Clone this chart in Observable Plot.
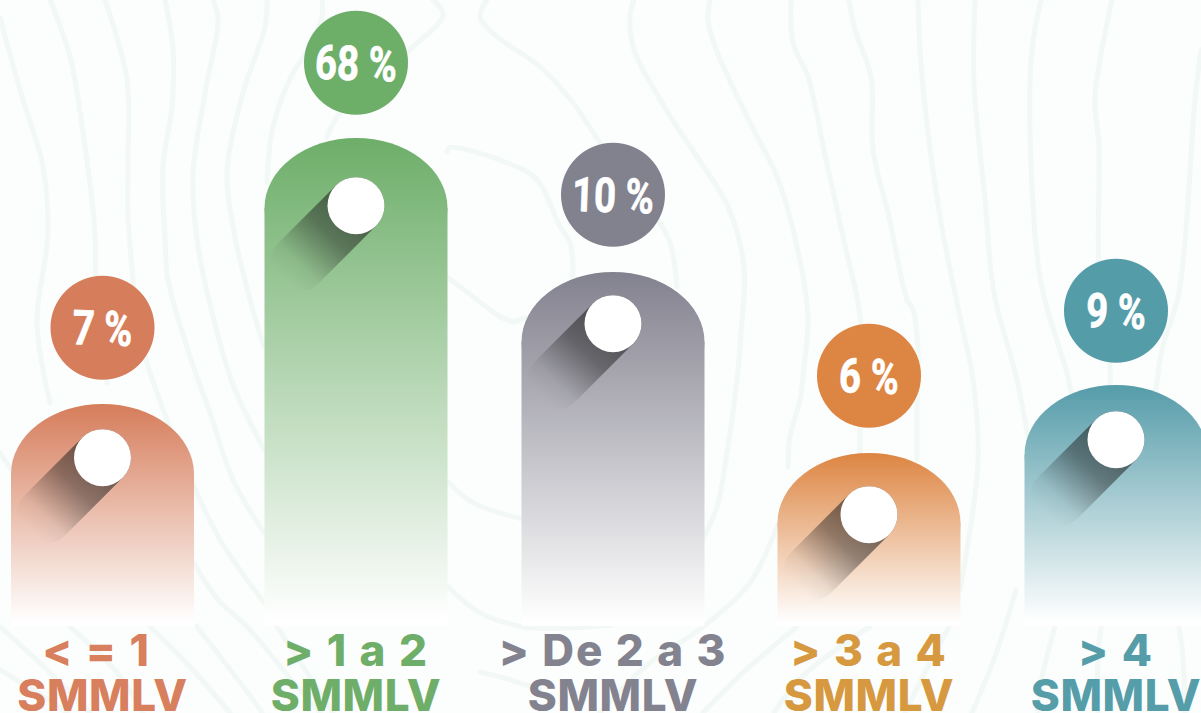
<!DOCTYPE html>
<html>
<head>
<meta charset="utf-8">
<script src="https://cdn.jsdelivr.net/npm/d3@7"></script>
<script src="https://cdn.jsdelivr.net/npm/@observablehq/plot@0.6"></script>
<style>
html,body{margin:0;padding:0;background:#fcfdfd;overflow:hidden}
.cat-label{letter-spacing:1.9px}
.unit-label{letter-spacing:0.7px}
</style>
</head>
<body>
<div id="chart"></div>
<script>
// Chart content
const categories = ["< = 1", "> 1 a 2", "> De 2 a 3", "> 3 a 4", "> 4"];
const unit = "SMMLV";
const percents = [7, 68, 10, 6, 9];
const slot = [102.5, 356, 613, 869, 1116];
const barTop = [404, 138, 272, 453, 385];
const knobLevel = [458, 206, 324, 515, 440];
const bubbleLevel = [328, 63, 195, 376, 311];
const bubbleColors = ["#d67d5b", "#6dae69", "#82818e", "#dd8542", "#559ca9"];
const labelColors = ["#d87f5d", "#6fae69", "#83828f", "#d6993f", "#559da9"];

// Faint contour lines of the backdrop
const contours = [
  [[0,18],[20,90],[32,128],[43,167],[48,233],[37,323],[50,403]],
  [[50,0],[70,57],[83,133],[95,233],[96,280],[107,383]],
  [[105,0],[127,80],[128,160],[128,217],[133,280],[137,327],[157,393],[194,487],[220,540],[264,603]],
  [[165,0],[173,50],[172,107],[163,167],[165,240],[168,280],[190,357],[210,413],[233,480],[264,533]],
  [[213,0],[218,20],[207,83],[193,173],[197,240],[213,317],[233,385],[264,450]],
  [[267,0],[265,27],[243,93],[227,173],[233,227],[250,300],[264,347]],
  [[322,0],[322,17],[305,55],[293,73],[273,127],[267,183]],
  [[433,0],[443,15],[410,50],[340,113],[327,137]],
  [[487,0],[480,17],[497,37],[540,67],[573,103],[600,143],[656,217],[670,243],[677,287]],
  [[447,152],[450,148],[507,163],[537,180],[560,227],[570,243],[572,280],[567,290]],
  [[447,277],[477,300],[500,317],[513,322],[525,318]],
  [[634,0],[630,17],[634,50],[668,113],[697,157],[728,207],[744,267],[741,333],[737,380],[727,453],[717,507],[700,545]],
  [[710,0],[708,20],[715,47],[750,123],[777,177],[797,247],[808,317],[804,367],[800,400],[790,437],[788,467]],
  [[791,0],[793,43],[808,77],[826,160],[846,250],[860,317],[860,437],[860,460]],
  [[849,0],[855,30],[871,77],[873,150],[889,217],[907,300],[913,310],[918,350],[917,413],[917,460]],
  [[918,0],[922,77],[940,217],[960,317],[973,380],[978,463],[960,590]],
  [[975,0],[974,83],[985,200],[994,293],[1017,380],[1030,450]],
  [[1041,0],[1032,50],[1030,133],[1041,283],[1068,377],[1072,400]],
  [[1112,0],[1095,97],[1099,147],[1099,270],[1110,367],[1110,390]],
  [[1201,50],[1195,100],[1179,293],[1162,350],[1155,400]],
  [[448,482],[473,503],[525,520]],
  [[448,587],[480,613],[523,627],[573,628],[613,625]],
  [[778,525],[750,583],[703,627],[645,667],[600,713]],
  [[797,627],[743,673],[703,713]],
  [[870,627],[802,677],[774,713]],
  [[949,627],[930,663],[905,713]],
  [[1016,590],[995,657],[972,713]],
  [[1055,627],[1041,683],[1038,713]],
  [[1101,627],[1098,657],[1098,713]],
  [[1179,627],[1183,657],[1185,713]],
  [[0,627],[47,670],[90,713]],
  [[70,627],[117,673],[143,713]],
  [[150,627],[190,667],[230,713]],
  [[194,563],[218,600],[247,627],[297,687],[320,713]],
  [[197,627],[253,700],[262,713]],
  [[0,670],[43,697],[67,713]],
  [[277,627],[333,713]],
  [[480,672],[503,678],[540,690]],
  [[0,453],[11,470]]
];

// Styling constants
const baseline = 626, halfWidth = 91.5, archHeight = 70;
const bubbleR = 52, knobR = 28.5, shadowReach = 58, shadowFade = 72;
const bg = "#fcfdfd", contourColor = "#f2f8f6";
const shadowStops = [[0, 0.62], [0.39, 0.46], [0.65, 0.2], [0.8, 0.06], [1, 0]];
const pctSqueeze = 0.8;

const rows = categories.map((label, i) => ({
  i, label, pct: percents[i], x: slot[i], top: barTop[i],
  knob: knobLevel[i], bubble: bubbleLevel[i],
  color: bubbleColors[i], ink: labelColors[i]
}));
const contourRows = contours.flatMap((pts, id) => pts.map(([x, y]) => ({id, x, y})));

const marks = [
  Plot.line(contourRows, {x: "x", y: "y", z: "id", stroke: contourColor, strokeWidth: 5, curve: "catmull-rom"})
];
for (const r of rows) {
  const fill = `url(#bar${r.i})`;
  marks.push(
    Plot.rect([r], {x1: d => d.x - halfWidth, x2: d => d.x + halfWidth, y1: d => d.top, y2: d => d.top + 2 * archHeight, rx: halfWidth, ry: archHeight, fill, dx: 0.5, dy: 0.8}),
    Plot.rect([r], {x1: d => d.x - halfWidth, x2: d => d.x + halfWidth, y1: d => d.top + archHeight, y2: baseline, fill, dx: 0.5, dy: 0.8}),
    Plot.link([r], {x1: "x", y1: "knob", x2: d => d.x - shadowReach, y2: d => d.knob + shadowReach, stroke: `url(#shadow${r.i})`, strokeWidth: knobR * 2, strokeLinecap: "round"}),
    Plot.dot([r], {x: "x", y: "knob", r: knobR, fill: "#ffffff"}),
    Plot.dot([r], {x: "x", y: "bubble", r: bubbleR, fill: r.color}),
    Plot.text([r], {x: "x", y: "bubble", dy: 2, text: d => `${d.pct} %`, fill: "#ffffff", stroke: "#ffffff", strokeWidth: 0.8, fontFamily: "Roboto", fontWeight: 700, fontSize: 48, rotate: 2, className: "pct"}),
    Plot.text([r], {x: "x", y: () => 652.5, dx: r.i === 0 ? -6 : 0, text: "label", fill: r.ink, fontFamily: "Inter", fontWeight: 800, fontSize: 44, className: "cat-label"}),
    Plot.text([r], {x: "x", y: () => 697.5, text: () => unit, fill: r.ink, fontFamily: "Inter", fontWeight: 800, fontSize: 44, className: "unit-label"})
  );
}

const plot = Plot.plot({
  width: 1201, height: 713,
  margin: 0,
  x: {domain: [0, 1201], range: [-0.5, 1200.5], axis: null},
  y: {domain: [0, 713], range: [-0.8, 712.2], axis: null},
  style: {background: bg, overflow: "hidden"},
  marks
});

const sx = plot.scale("x"), sy = plot.scale("y");
const defs = d3.select(plot).insert("defs", ":first-child");
for (const r of rows) {
  const g = defs.append("linearGradient").attr("id", `bar${r.i}`).attr("gradientUnits", "userSpaceOnUse")
    .attr("x1", 0).attr("x2", 0).attr("y1", sy.apply(r.top)).attr("y2", sy.apply(baseline - 4));
  g.append("stop").attr("offset", 0).attr("stop-color", r.color);
  g.append("stop").attr("offset", 1).attr("stop-color", "#ffffff");
  const s = defs.append("linearGradient").attr("id", `shadow${r.i}`).attr("gradientUnits", "userSpaceOnUse")
    .attr("x1", sx.apply(r.x)).attr("y1", sy.apply(r.knob))
    .attr("x2", sx.apply(r.x - shadowFade)).attr("y2", sy.apply(r.knob + shadowFade));
  for (const [o, a] of shadowStops) s.append("stop").attr("offset", o).attr("stop-color", "#222").attr("stop-opacity", a);
}
document.getElementById("chart").append(plot);
// Condense the percentage numerals
d3.select(plot).selectAll(".pct text").each(function () {
  this.setAttribute("textLength", this.getComputedTextLength() * pctSqueeze);
  this.setAttribute("lengthAdjust", "spacingAndGlyphs");
});
</script>
</body>
</html>
